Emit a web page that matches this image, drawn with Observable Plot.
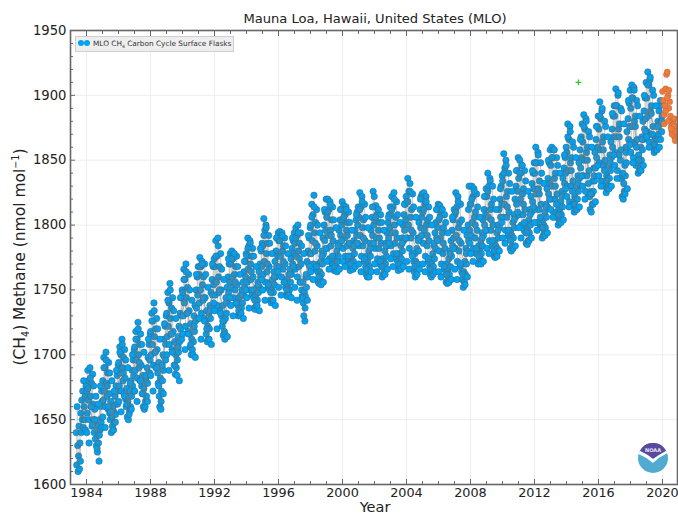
<!DOCTYPE html>
<html><head><meta charset="utf-8">
<script src="https://cdn.jsdelivr.net/npm/d3@7"></script>
<script src="https://cdn.jsdelivr.net/npm/@observablehq/plot@0.6"></script>
<style>
html,body{margin:0;padding:0;background:#fff}
#wrap{position:relative;width:678px;height:514px;overflow:hidden;font-family:"DejaVu Sans",sans-serif;color:#222}
#wrap svg.plot{display:block}
.lbl{position:absolute;white-space:nowrap}
sub,sup{font-size:62%;line-height:0}
#legend{position:absolute;left:75px;top:36px;width:157px;height:14px;background:#eeeeee;border:1px solid #cfcfcf;font-size:7.35px;line-height:14px;color:#333;white-space:nowrap}
#legend i{position:absolute;top:3px;width:6px;height:6px;border-radius:50%;background:#00a2f2}
#legend span{position:absolute;left:17px;top:0}
</style></head><body>
<div id="wrap">
<div class="lbl" style="left:0;width:750px;top:11px;text-align:center;font-size:13.1px">Mauna Loa, Hawaii, United States (MLO)</div>
<div class="lbl" style="left:20px;top:257px;font-size:15.5px;transform:translate(-50%,-50%) rotate(-90deg)">(CH<sub>4</sub>) Methane (nmol mol<sup>&minus;1</sup>)</div>
<div class="lbl" style="left:0;width:750px;top:499px;text-align:center;font-size:14.5px">Year</div>
<div id="legend"><i style="left:2px"></i><i style="left:8px"></i><span>MLO CH<sub>4</sub> Carbon Cycle Surface Flasks</span></div>
<svg class="logo" style="position:absolute;left:638px;top:443px" width="30" height="30" viewBox="0 0 30 30">
<circle cx="15" cy="15" r="15" fill="#4fabd0"/>
<path d="M2 8 A14.5 14.5 0 0 1 28 8 Q21 11 15 16 Q9 11 2 8Z" fill="#5a4a9e"/>
<path d="M0.5 11 L2 8 Q9 11 15 16 Q21 12 28 8 L29.5 10 Q21 14 15 20 Q8 14 0.5 11Z" fill="#fff"/>
<text x="15" y="8.5" font-size="5" font-weight="bold" fill="#e8e4f5" text-anchor="middle" font-family="DejaVu Sans">NOAA</text>
</svg>
</div>
<script>
const startYear = 1984;
const partial1983 = [1640,1615,1660,1630,1610,1622,1645,1612,1632,1618,1655,1640,1665,1650,1672,1644,1680,1660,1650,1668,1642,1676];
const yearValues = [
[1672,1655,1688,1665,1680,1650,1690,1668,1660,1678,1645,1685,1662,1650,1640,1658,1635,1648,1630,1645,1625,1640,1632,1618,1650,1642,1660,1648,1672,1664],
[1680,1665,1698,1672,1690,1660,1702,1678,1668,1686,1658,1694,1670,1655,1650,1664,1640,1652,1645,1660,1642,1656,1648,1668,1654,1676,1662,1684,1672,1692],
[1694,1676,1706,1686,1700,1672,1712,1690,1680,1698,1670,1704,1682,1666,1660,1674,1652,1664,1650,1668,1656,1672,1660,1680,1668,1688,1676,1696,1684,1704],
[1706,1688,1718,1696,1712,1682,1725,1700,1690,1708,1680,1716,1692,1676,1670,1684,1660,1674,1658,1678,1664,1682,1668,1690,1678,1698,1686,1708,1696,1716],
[1718,1700,1732,1708,1726,1692,1740,1714,1702,1720,1690,1728,1704,1686,1678,1694,1668,1660,1682,1658,1672,1690,1680,1700,1688,1712,1698,1722,1708,1730],
[1732,1714,1748,1722,1740,1708,1755,1728,1716,1736,1704,1744,1718,1702,1692,1710,1685,1700,1690,1708,1696,1714,1702,1722,1710,1732,1720,1744,1730,1750],
[1748,1730,1766,1740,1758,1722,1770,1744,1732,1752,1718,1762,1734,1716,1706,1724,1700,1712,1704,1722,1710,1730,1718,1738,1726,1750,1736,1760,1746,1768],
[1762,1740,1775,1750,1768,1732,1772,1754,1742,1760,1728,1770,1744,1726,1716,1734,1710,1722,1712,1732,1720,1738,1728,1748,1736,1758,1746,1768,1754,1774],
[1768,1746,1788,1756,1776,1738,1790,1760,1748,1768,1734,1778,1750,1730,1722,1738,1715,1726,1718,1712,1728,1744,1732,1752,1740,1760,1748,1770,1756,1778],
[1770,1752,1780,1760,1774,1744,1778,1762,1750,1768,1740,1776,1754,1738,1730,1744,1732,1740,1730,1746,1736,1750,1740,1756,1746,1764,1752,1772,1760,1778],
[1776,1756,1790,1766,1784,1750,1788,1770,1758,1776,1746,1782,1760,1744,1736,1750,1735,1746,1738,1752,1742,1756,1748,1764,1752,1770,1760,1780,1768,1786],
[1784,1762,1805,1772,1796,1756,1800,1778,1764,1786,1752,1792,1768,1750,1742,1756,1740,1750,1742,1758,1748,1764,1754,1772,1760,1780,1768,1790,1776,1794],
[1788,1768,1795,1776,1790,1760,1794,1780,1766,1784,1756,1790,1770,1752,1746,1758,1745,1754,1748,1762,1750,1766,1756,1774,1762,1782,1770,1788,1778,1794],
[1786,1766,1798,1776,1792,1760,1800,1780,1768,1786,1756,1794,1770,1750,1745,1756,1740,1730,1748,1726,1745,1760,1752,1772,1760,1780,1770,1790,1778,1798],
[1800,1778,1816,1788,1808,1770,1823,1794,1780,1802,1766,1812,1784,1764,1756,1770,1755,1764,1758,1772,1762,1780,1770,1790,1778,1800,1788,1810,1796,1820],
[1806,1782,1820,1792,1812,1774,1818,1796,1784,1804,1770,1814,1788,1770,1765,1776,1766,1774,1768,1780,1772,1786,1776,1796,1784,1804,1792,1812,1800,1818],
[1804,1782,1815,1790,1808,1776,1814,1796,1784,1802,1772,1810,1786,1770,1765,1776,1768,1776,1770,1782,1772,1788,1778,1796,1786,1804,1792,1810,1800,1814],
[1806,1784,1825,1792,1814,1776,1822,1798,1784,1804,1772,1816,1788,1768,1762,1776,1760,1772,1764,1780,1768,1786,1776,1796,1784,1806,1792,1826,1800,1822],
[1804,1782,1815,1790,1808,1774,1812,1796,1782,1802,1770,1808,1786,1768,1760,1774,1762,1772,1766,1780,1770,1786,1776,1794,1784,1802,1790,1808,1798,1814],
[1808,1784,1822,1794,1814,1778,1825,1800,1786,1806,1774,1818,1790,1772,1765,1778,1768,1776,1770,1784,1774,1790,1780,1800,1788,1808,1796,1816,1804,1822],
[1818,1790,1836,1800,1826,1782,1832,1806,1790,1812,1778,1824,1794,1772,1764,1778,1760,1772,1766,1782,1770,1790,1780,1802,1790,1812,1798,1822,1806,1824],
[1810,1786,1825,1796,1816,1776,1822,1800,1784,1804,1772,1814,1788,1768,1762,1774,1760,1770,1764,1778,1768,1784,1774,1794,1782,1802,1790,1812,1798,1816],
[1804,1780,1815,1790,1808,1770,1812,1794,1778,1798,1766,1808,1782,1762,1756,1770,1755,1765,1758,1774,1762,1780,1768,1788,1776,1796,1784,1804,1790,1812],
[1808,1782,1825,1792,1814,1772,1822,1798,1780,1802,1768,1816,1786,1764,1758,1770,1752,1764,1756,1772,1762,1782,1770,1792,1780,1800,1788,1830,1796,1816],
[1816,1792,1830,1802,1822,1782,1828,1806,1790,1810,1778,1824,1796,1778,1770,1784,1772,1780,1774,1788,1778,1794,1784,1804,1792,1812,1800,1822,1808,1828],
[1822,1796,1840,1806,1830,1788,1836,1812,1796,1816,1784,1830,1800,1782,1776,1788,1775,1784,1778,1794,1782,1800,1790,1812,1798,1820,1806,1830,1816,1838],
[1834,1806,1855,1816,1844,1796,1850,1822,1806,1826,1792,1840,1810,1790,1782,1796,1780,1792,1784,1802,1790,1808,1798,1820,1806,1830,1816,1842,1826,1852],
[1836,1808,1850,1820,1840,1800,1846,1824,1808,1828,1796,1842,1812,1794,1786,1800,1785,1796,1788,1804,1794,1812,1800,1822,1810,1832,1818,1840,1828,1848],
[1840,1812,1860,1824,1848,1802,1856,1828,1812,1834,1798,1848,1816,1798,1790,1804,1792,1800,1794,1810,1798,1816,1806,1828,1814,1836,1824,1848,1832,1858],
[1846,1820,1860,1830,1852,1810,1858,1836,1820,1840,1806,1852,1824,1806,1800,1812,1802,1810,1804,1818,1808,1826,1814,1836,1824,1844,1832,1852,1840,1860],
[1856,1830,1878,1842,1866,1818,1876,1848,1830,1852,1816,1864,1834,1816,1810,1822,1812,1820,1814,1830,1820,1838,1826,1848,1836,1858,1844,1868,1852,1878],
[1864,1838,1885,1850,1874,1826,1882,1856,1838,1860,1822,1872,1842,1822,1812,1826,1810,1824,1816,1834,1826,1844,1834,1856,1844,1866,1852,1876,1860,1884],
[1874,1848,1895,1858,1882,1834,1888,1864,1846,1868,1830,1880,1850,1832,1825,1838,1828,1836,1830,1846,1836,1854,1842,1864,1852,1874,1860,1884,1868,1892],
[1884,1856,1905,1868,1892,1842,1900,1874,1854,1878,1836,1890,1858,1836,1822,1838,1820,1832,1826,1846,1838,1860,1848,1872,1858,1882,1866,1894,1876,1904],
[1890,1864,1908,1876,1898,1852,1906,1880,1862,1884,1846,1896,1866,1848,1840,1854,1842,1850,1844,1860,1850,1868,1858,1880,1866,1888,1874,1898,1882,1910],
[1898,1872,1918,1884,1908,1864,1912,1888,1870,1892,1860,1904,1876,1862,1856,1868,1858,1866,1860,1876,1866,1880,1870,1888,1878,1892,1866,1880,1872,1884]
];
const scatterValues = [
[1640,1674,1632,1682,1660,1646,1676,1650,1668,1628,1662,1638,1676,1644],
[1652,1690,1644,1696,1676,1660,1686,1656,1680,1642,1672,1648,1688,1662],
[1664,1702,1656,1708,1686,1668,1696,1662,1690,1654,1678,1658,1700,1672],
[1672,1712,1664,1720,1694,1680,1708,1670,1702,1660,1684,1664,1712,1686],
[1684,1726,1672,1734,1702,1690,1720,1676,1712,1664,1692,1670,1724,1696],
[1700,1742,1688,1750,1716,1702,1734,1692,1728,1684,1706,1680,1744,1712],
[1716,1758,1704,1764,1732,1716,1750,1708,1742,1700,1722,1698,1762,1728],
[1728,1768,1712,1770,1744,1726,1762,1720,1752,1712,1734,1708,1770,1740],
[1734,1776,1720,1784,1750,1732,1766,1726,1758,1716,1740,1714,1774,1744],
[1738,1774,1730,1778,1756,1740,1768,1734,1762,1732,1746,1728,1772,1750],
[1744,1782,1736,1786,1764,1750,1776,1742,1768,1738,1754,1734,1782,1758],
[1750,1792,1742,1798,1770,1754,1786,1748,1778,1742,1760,1738,1790,1764],
[1752,1788,1746,1792,1772,1756,1784,1750,1778,1746,1762,1744,1790,1768],
[1752,1790,1742,1794,1774,1756,1784,1744,1778,1736,1762,1742,1792,1768],
[1764,1806,1758,1814,1786,1768,1800,1760,1794,1754,1776,1756,1812,1782],
[1772,1810,1766,1816,1792,1776,1804,1768,1798,1764,1784,1766,1812,1788],
[1772,1806,1768,1812,1792,1776,1802,1770,1796,1766,1784,1768,1808,1786],
[1770,1812,1764,1818,1790,1774,1806,1766,1798,1760,1782,1764,1814,1786],
[1770,1806,1764,1812,1790,1772,1802,1768,1796,1762,1784,1766,1806,1786],
[1774,1812,1768,1820,1794,1778,1808,1770,1802,1766,1786,1768,1816,1790],
[1772,1818,1766,1826,1796,1776,1814,1768,1806,1762,1788,1766,1820,1792],
[1770,1812,1764,1818,1792,1774,1806,1766,1800,1762,1786,1764,1812,1788],
[1764,1806,1760,1812,1786,1768,1802,1762,1794,1756,1778,1758,1806,1782],
[1766,1810,1758,1818,1788,1770,1804,1762,1796,1754,1778,1760,1812,1786],
[1778,1820,1772,1826,1800,1782,1814,1776,1806,1770,1790,1772,1822,1796],
[1782,1826,1778,1834,1804,1788,1820,1780,1812,1776,1796,1780,1828,1802],
[1790,1840,1786,1846,1814,1796,1832,1788,1826,1782,1804,1784,1842,1810],
[1798,1840,1790,1846,1816,1802,1834,1794,1826,1788,1808,1790,1842,1814],
[1802,1848,1796,1854,1824,1806,1840,1798,1832,1792,1814,1794,1850,1820],
[1812,1852,1806,1858,1830,1816,1846,1808,1840,1802,1822,1804,1854,1828],
[1822,1868,1814,1872,1842,1826,1860,1816,1852,1812,1832,1814,1866,1838],
[1830,1876,1820,1880,1850,1832,1868,1824,1860,1816,1838,1818,1876,1846],
[1838,1884,1830,1890,1858,1842,1876,1834,1868,1828,1848,1830,1886,1854],
[1846,1892,1836,1902,1868,1850,1888,1840,1878,1824,1856,1828,1896,1862],
[1856,1898,1848,1904,1876,1860,1892,1850,1884,1842,1866,1846,1900,1872],
[1868,1908,1860,1914,1886,1870,1900,1862,1892,1858,1876,1860,1896,1880]
];
const trendValues = [
[1664,1650,1640,1660],[1674,1664,1652,1672],[1686,1676,1664,1684],[1698,1688,1674,1694],
[1710,1698,1684,1708],[1724,1714,1702,1726],[1742,1728,1716,1738],[1752,1738,1730,1748],
[1758,1744,1734,1752],[1760,1750,1742,1756],[1766,1756,1748,1764],[1774,1762,1754,1772],
[1776,1766,1758,1772],[1776,1764,1752,1774],[1788,1782,1770,1794],[1794,1786,1778,1792],
[1792,1786,1780,1790],[1794,1786,1778,1792],[1792,1784,1778,1790],[1796,1788,1782,1796],
[1802,1790,1782,1796],[1798,1786,1778,1792],[1792,1782,1772,1788],[1794,1780,1772,1794],
[1804,1794,1786,1802],[1810,1798,1792,1808],[1820,1808,1798,1818],[1824,1812,1804,1820],
[1828,1816,1808,1826],[1836,1826,1818,1836],[1848,1838,1828,1850],[1856,1844,1836,1858],
[1866,1854,1844,1866],[1874,1860,1850,1874],[1880,1868,1860,1880],[1890,1880,1872,1880]
];
const orangeDates = [2020.0,2020.05,2020.1,2020.15,2020.2,2020.25,2020.3,2020.35,2020.4,2020.45,2020.5,2020.55,2020.6,2020.65,2020.7,2020.75,2020.8,2020.85,2020.1,2020.2,2020.3,2020.4,2020.5,2020.6,2020.7,2020.8,2020.15,2020.35,2020.55,2020.75];
const orangeValues = [1903,1896,1885,1892,1905,1916,1918,1900,1890,1895,1882,1876,1872,1880,1878,1868,1865,1873,1878,1888,1898,1904,1884,1870,1876,1872,1892,1880,1874,1882];
const greenDates = [2014.75];
const greenValues = [1910];
const yMajor = [1600,1650,1700,1750,1800,1850,1900,1950];
const yMinor = [1610,1620,1630,1640,1660,1670,1680,1690,1710,1720,1730,1740,1760,1770,1780,1790,1810,1820,1830,1840,1860,1870,1880,1890,1910,1920,1930,1940];
const xMajor = [1984,1988,1992,1996,2000,2004,2008,2012,2016,2020];
const xMinor = [1985,1986,1987,1989,1990,1991,1993,1994,1995,1997,1998,1999,2001,2002,2003,2005,2006,2007,2009,2010,2011,2013,2014,2015,2017,2018,2019];

const blue = [];
partial1983.forEach((v,i)=>blue.push({t:1983.36+i*0.029,v}));
yearValues.forEach((vals,k)=>vals.forEach((v,i)=>blue.push({t:startYear+k+(i+0.5)/vals.length,v})));
const flaskLine = blue.slice();
scatterValues.forEach((vals,k)=>vals.forEach((v,i)=>blue.push({t:startYear+k+(i+0.25)/vals.length,v})));
const trend = [];
trendValues.forEach((vals,k)=>vals.forEach((v,i)=>trend.push({t:startYear+k+(i+0.5)/vals.length,v})));
const orange = orangeDates.map((t,i)=>({t,v:orangeValues[i]}));
const green = greenDates.map((t,i)=>({t,v:greenValues[i]}));
const none = ()=>"";
const spine = "#666";
const chart = Plot.plot({
  width:678,height:514,marginLeft:70,marginRight:1,marginTop:30,marginBottom:30,
  style:{background:"transparent",fontFamily:"DejaVu Sans",fontSize:"13px",color:"#222"},
  x:{domain:[1983,2020.94],axis:null},
  y:{domain:[1600,1950],axis:null},
  marks:[
    Plot.gridX(xMajor,{stroke:"#eeeeee",strokeOpacity:1,strokeWidth:1}),
    Plot.gridY(yMajor,{stroke:"#eeeeee",strokeOpacity:1,strokeWidth:1}),
    Plot.dot(blue,{x:"t",y:"v",r:3.2,fill:"#00a2f2",stroke:"#2f6f96",strokeWidth:0.6}),
    Plot.line(flaskLine,{x:"t",y:"v",stroke:"#707070",strokeWidth:0.6,strokeOpacity:0.35}),
    Plot.line(trend,{x:"t",y:"v",stroke:"#808080",strokeWidth:1,strokeOpacity:0.6}),
    Plot.dot(orange,{x:"t",y:"v",r:3,fill:"#f07a3a",stroke:"#b8683c",strokeWidth:0.5}),
    Plot.dot(green,{x:"t",y:"v",r:2,symbol:"plus",stroke:"#22cc22",strokeWidth:1.2}),
    Plot.frame({stroke:spine,strokeWidth:1.6}),
    Plot.axisX(xMajor,{anchor:"bottom",tickSize:-5,tickPadding:8,stroke:spine,tickFormat:d=>String(d),label:null,fontSize:12.8}),
    Plot.axisX(xMinor,{anchor:"bottom",tickSize:-3,stroke:spine,tickFormat:none,label:null}),
    Plot.axisX(xMajor,{anchor:"top",tickSize:-5,stroke:spine,tickFormat:none,label:null}),
    Plot.axisX(xMinor,{anchor:"top",tickSize:-3,stroke:spine,tickFormat:none,label:null}),
    Plot.axisY(yMajor,{anchor:"left",tickSize:-5,tickPadding:9,stroke:spine,tickFormat:d=>String(d),label:null,fontSize:13.2}),
    Plot.axisY(yMinor,{anchor:"left",tickSize:-3,stroke:spine,tickFormat:none,label:null})
  ]
});
document.getElementById("wrap").prepend(chart);
</script>
</body></html>
